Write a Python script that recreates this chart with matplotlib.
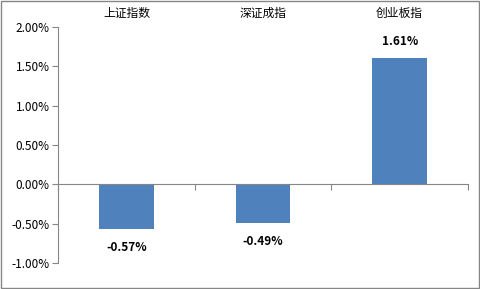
import matplotlib.pyplot as plt
from matplotlib.patches import Rectangle
from matplotlib.ticker import FuncFormatter

plt.rcParams['font.family'] = ['Noto Sans CJK SC', 'DejaVu Sans']

categories = ['上证指数', '深证成指', '创业板指']
values = [-0.57, -0.49, 1.61]
bar_color = '#4F81BD'
axis_color = '#868686'

fig = plt.figure(figsize=(4.8, 2.89), dpi=100)
ax = fig.add_axes([0.121, 0.09, 0.854, 0.8166])

x = list(range(len(categories)))
ax.bar(x, values, width=0.4, color=bar_color, zorder=2)

ax.set_xlim(-0.5, len(categories) - 0.5)
ax.set_ylim(-1.0, 2.0)
ax.set_yticks([-1.0, -0.5, 0.0, 0.5, 1.0, 1.5, 2.0])
ax.yaxis.set_major_formatter(FuncFormatter(lambda v, p: f'{v:.2f}%'))
ax.tick_params(axis='y', labelsize=8.5, length=4, color=axis_color, pad=2)

ax.spines['top'].set_visible(False)
ax.spines['right'].set_visible(False)
ax.spines['left'].set_color(axis_color)
ax.spines['bottom'].set_color(axis_color)
ax.spines['bottom'].set_position(('data', 0))
ax.set_xticks([i - 0.5 for i in range(len(categories) + 1)])
ax.set_xticklabels([])
ax.tick_params(axis='x', length=4, color=axis_color, direction='out')

for i, (c, v) in enumerate(zip(categories, values)):
    ax.text(i, 1.03, c, transform=ax.get_xaxis_transform(), ha='center', va='bottom',
            fontsize=8.5)
    off = 0.12 if v > 0 else -0.15
    ax.text(i, v + off, f'{v:.2f}%', ha='center', va='bottom' if v > 0 else 'top',
            fontsize=8.5, fontweight='bold')

fig.patches.append(Rectangle((0.002, 0.003), 0.995, 0.994, transform=fig.transFigure,
                             fill=False, edgecolor=axis_color, linewidth=1))

fig.savefig('out.png', dpi=100)
